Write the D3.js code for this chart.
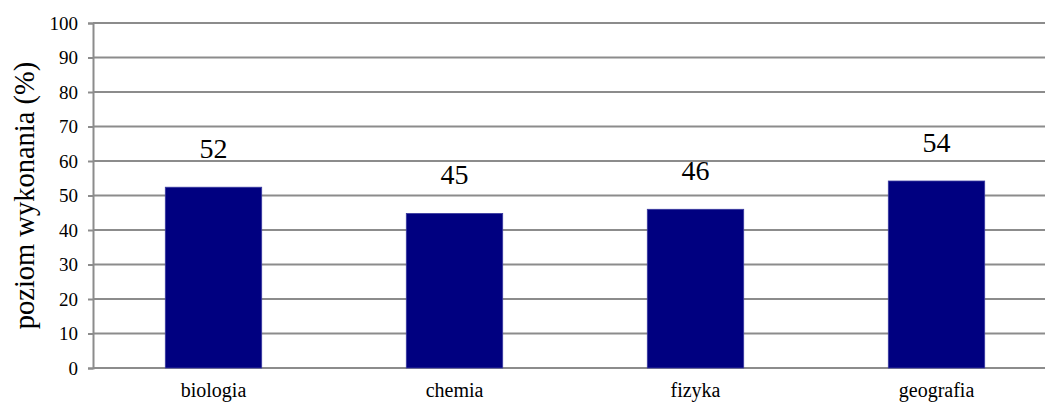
<!DOCTYPE html>
<html>
<head>
<meta charset="utf-8">
<script src="https://cdn.jsdelivr.net/npm/d3@7"></script>
<style>
  body { margin: 0; background: #fff; }
  svg text { font-family: "Times New Roman", "Liberation Serif", Tinos, "Nimbus Roman", "DejaVu Serif", serif; fill: #000; }
</style>
</head>
<body>
<div id="chart-area"></div>
<script>
// chart data
var categories = ["biologia", "chemia", "fizyka", "geografia"];
var values = [52.4, 44.8, 46.0, 54.2];
var labels = ["52", "45", "46", "54"];
var yTicks = [0, 10, 20, 30, 40, 50, 60, 70, 80, 90, 100];

var margin = { left: 93, right: -12, top: 23, bottom: 35 };
var width = 1045 - margin.left - margin.right;
var height = 403 - margin.top - margin.bottom;

var svg = d3.select("#chart-area").append("svg")
  .attr("width", 1045)
  .attr("height", 403);

var g = svg.append("g")
  .attr("transform", "translate(" + margin.left + "," + margin.top + ")");

// scales
var x = d3.scaleBand()
  .domain(categories)
  .range([0, width])
  .paddingInner(0.6)
  .paddingOuter(0.3);

var y = d3.scaleLinear()
  .domain([0, 100])
  .range([height, 0]);

// gridlines
g.append("g")
  .selectAll("line")
  .data(yTicks)
  .enter()
  .append("line")
  .attr("x1", 0)
  .attr("x2", width)
  .attr("y1", function(d) { return y(d); })
  .attr("y2", function(d) { return y(d); })
  .attr("stroke", "#8c8c8c")
  .attr("stroke-width", 2);

// Y axis
var yAxisCall = d3.axisLeft(y)
  .tickValues(yTicks)
  .tickSize(5)
  .tickPadding(10);
var yAxis = g.append("g")
  .attr("class", "y-axis")
  .call(yAxisCall)
  .attr("font-family", null);
yAxis.select(".domain").attr("stroke", "#8c8c8c").attr("stroke-width", 2);
yAxis.selectAll(".tick line").attr("stroke", "#8c8c8c").attr("stroke-width", 2);
yAxis.selectAll("text")
  .attr("font-size", "19px");

// X axis labels
var xAxisCall = d3.axisBottom(x).tickSize(0).tickPadding(0);
var xAxis = g.append("g")
  .attr("class", "x axis")
  .attr("transform", "translate(0," + height + ")")
  .call(xAxisCall)
  .attr("font-family", null);
xAxis.select(".domain").remove();
xAxis.selectAll("text")
  .attr("y", 29)
  .attr("dy", 0)
  .attr("font-size", "20px");

// bars
g.selectAll("rect.bar")
  .data(values)
  .enter()
  .append("rect")
  .attr("class", "bar")
  .attr("x", function(d, i) { return x(categories[i]); })
  .attr("y", function(d) { return y(d); })
  .attr("width", x.bandwidth())
  .attr("height", function(d) { return height - y(d); })
  .attr("fill", "#000080")
  .attr("stroke", "#3a3aa0")
  .attr("stroke-width", 0.8);

// value labels
g.selectAll("text.value")
  .data(values)
  .enter()
  .append("text")
  .attr("class", "value")
  .attr("x", function(d, i) { return x(categories[i]) + x.bandwidth() / 2; })
  .attr("y", function(d) { return y(d) - 29; })
  .attr("text-anchor", "middle")
  .attr("font-size", "28px")
  .text(function(d, i) { return labels[i]; });

// Y label
svg.append("text")
  .attr("class", "y axis-label")
  .attr("transform", "translate(34," + (margin.top + height / 2) + ") rotate(-90)")
  .attr("text-anchor", "middle")
  .attr("font-size", "28.5px")
  .text("poziom wykonania (%)");
</script>
</body>
</html>
